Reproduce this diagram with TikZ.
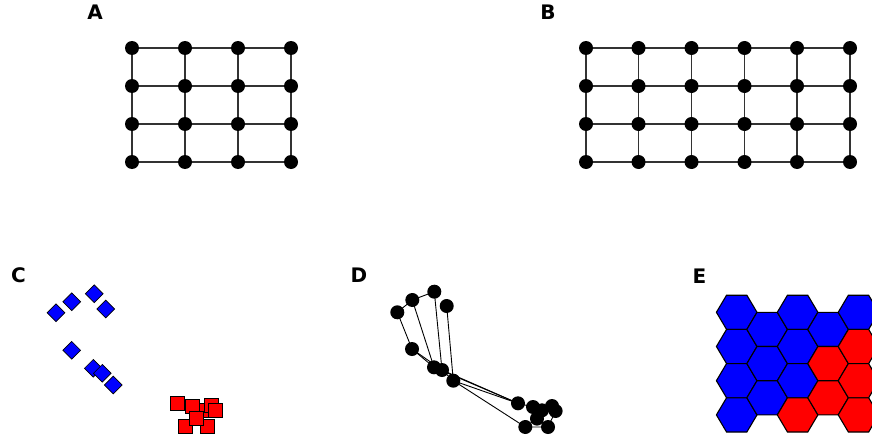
\documentclass[tikz,border=0pt]{standalone}
\usepackage{fontspec}
\setsansfont{DejaVu Sans}
\usetikzlibrary{shapes.geometric}
\tikzset{
  panellabel/.style={inner sep=0pt, font=\sffamily\bfseries\fontsize{20}{24}\selectfont},
  dot/.style={circle, fill=black, inner sep=0pt, minimum size=14pt},
  gridedge/.style={draw=black!80, line width=1.1pt},
  embedge/.style={draw=black, line width=0.9pt},
  bluemark/.style={diamond, aspect=1, draw=black, line width=0.7pt, fill={rgb,255:red,0;green,0;blue,255}, inner sep=0pt, minimum width=18pt, minimum height=18pt},
  redmark/.style={rectangle, draw=black, line width=0.9pt, fill={rgb,255:red,255;green,0;blue,0}, inner sep=0pt, minimum size=14pt},
  hexedge/.style={draw=black, line width=1.1pt}
}
\definecolor{cellblue}{RGB}{0,0,255}
\definecolor{cellred}{RGB}{255,0,0}
% one flat-topped hexagonal map cell: centre x, centre y, fill colour
\newcommand{\hexcell}[3]{%
  \filldraw[hexedge, fill=#3, shift={(#1,#2)}]
    (-20.3,0) -- (-10.15,-17.1) -- (10.15,-17.1) -- (20.3,0)
    -- (10.15,17.1) -- (-10.15,17.1) -- cycle;}
\begin{document}
\begin{tikzpicture}[x=1pt, y=-1pt]
\useasboundingbox (0,0) rectangle (872,436);

% ---------- panel labels ----------
\node[panellabel] (labA) at (95,12.5) {A};
\node[panellabel] (labB) at (548,12.5) {B};
\node[panellabel] (labC) at (18.5,275.5) {C};
\node[panellabel] (labD) at (359,275.5) {D};
\node[panellabel] (labE) at (699.5,276) {E};

% ---------- A: 4 x 4 lattice ----------
\foreach \c/\x in {1/132,2/185,3/238,4/291}
  \foreach \r/\y in {1/48,2/86,3/124,4/162}
    \coordinate (a\c\r) at (\x,\y);
\foreach \r in {1,2,3,4} {
  \draw[gridedge] (a1\r) -- (a2\r) -- (a3\r) -- (a4\r);
}
\foreach \c in {1,2,3,4} {
  \draw[gridedge] (a\c1) -- (a\c2) -- (a\c3) -- (a\c4);
}
\foreach \c in {1,2,3,4}
  \foreach \r in {1,2,3,4}
    \node[dot] (na\c\r) at (a\c\r) {};

% ---------- B: 6 x 4 lattice ----------
\foreach \c/\x in {1/586,2/638.5,3/691.5,4/744.5,5/797,6/850}
  \foreach \r/\y in {1/48,2/86,3/124,4/162}
    \coordinate (b\c\r) at (\x,\y);
\foreach \r in {1,2,3,4} {
  \draw[gridedge] (b1\r) -- (b2\r) -- (b3\r) -- (b4\r) -- (b5\r) -- (b6\r);
}
\foreach \c in {1,...,6} {
  \draw[gridedge] (b\c1) -- (b\c2) -- (b\c3) -- (b\c4);
}
\foreach \c in {1,...,6}
  \foreach \r in {1,2,3,4}
    \node[dot] (nb\c\r) at (b\c\r) {};

% ---------- C: two classes ----------
\node[bluemark] (cu1) at (56,312.7) {};
\node[bluemark] (cu2) at (71.7,301.7) {};
\node[bluemark] (cu3) at (94.3,293.7) {};
\node[bluemark] (cu4) at (105.7,309) {};
\node[bluemark] (cu5) at (71.7,350.3) {};
\node[bluemark] (cu6) at (93.3,368.3) {};
\node[bluemark] (cu7) at (102.3,373.3) {};
\node[bluemark] (cu8) at (113.3,385) {};

\node[redmark] (cl7) at (185,426.7) {};
\node[redmark] (cl8) at (207.7,426.7) {};
\node[redmark] (cl1) at (177.7,403.3) {};
\node[redmark] (cl3) at (201.7,410) {};
\node[redmark] (cl2) at (192.7,406.7) {};
\node[redmark] (cl4) at (211.7,405.7) {};
\node[redmark] (cl5) at (215.3,410.7) {};
\node[redmark] (cl6) at (196.7,418.3) {};

% ---------- D: embedded graph ----------
\coordinate (du1) at (397.3,312.3);
\coordinate (du2) at (412.3,300);
\coordinate (du3) at (434.3,291.7);
\coordinate (du4) at (446.7,306);
\coordinate (du5) at (412,349);
\coordinate (du6) at (434,367.3);
\coordinate (du7) at (442,370);
\coordinate (du8) at (453.3,380.7);
\coordinate (dl1) at (518,403.3);
\coordinate (dl2) at (533,407);
\coordinate (dl3) at (542,410.3);
\coordinate (dl4) at (552,406);
\coordinate (dl5) at (555.6,411);
\coordinate (dl6) at (537,418.6);
\coordinate (dl7) at (525.3,427);
\coordinate (dl8) at (548,427);

\draw[embedge] (du1) -- (du2) -- (du3);
\draw[embedge] (du1) -- (du5);
\draw[embedge] (du2) -- (du6);
\draw[embedge] (du3) -- (du7);
\draw[embedge] (du4) -- (du8);
\draw[embedge] (du5) -- (du6) -- (du7) -- (du8);
\draw[embedge] (du5) -- (du7);
\draw[embedge] (du6) -- (dl1);
\draw[embedge] (du7) -- (dl1);
\draw[embedge] (du8) -- (dl1);
\draw[embedge] (du8) -- (dl7);
\draw[embedge] (dl1) -- (dl2) -- (dl3) -- (dl4) -- (dl5);
\draw[embedge] (dl2) -- (dl6) -- (dl3);
\draw[embedge] (dl6) -- (dl7) -- (dl8) -- (dl6);
\draw[embedge] (dl5) -- (dl8);

\foreach \n in {du1,du2,du3,du4,du5,du6,du7,du8,dl1,dl2,dl3,dl4,dl5,dl6,dl7,dl8}
  \node[dot] (n\n) at (\n) {};

% ---------- E: hexagonal map ----------
\hexcell{736.7}{312.3}{cellblue}
\hexcell{736.7}{346.5}{cellblue}
\hexcell{736.7}{380.7}{cellblue}
\hexcell{736.7}{414.9}{cellblue}
\hexcell{767.15}{329.4}{cellblue}
\hexcell{767.15}{363.6}{cellblue}
\hexcell{767.15}{397.8}{cellblue}
\hexcell{797.6}{312.3}{cellblue}
\hexcell{797.6}{346.5}{cellblue}
\hexcell{797.6}{380.7}{cellblue}
\hexcell{797.6}{414.9}{cellred}
\hexcell{828.05}{329.4}{cellblue}
\hexcell{828.05}{363.6}{cellred}
\hexcell{828.05}{397.8}{cellred}
\hexcell{858.5}{312.3}{cellblue}
\hexcell{858.5}{346.5}{cellred}
\hexcell{858.5}{380.7}{cellred}
\hexcell{858.5}{414.9}{cellred}
\end{tikzpicture}
\end{document}
